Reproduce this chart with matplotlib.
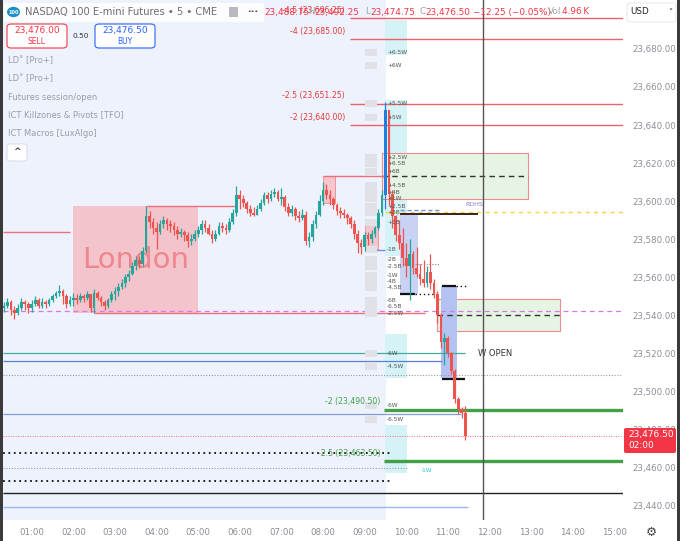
import numpy as np
import matplotlib
matplotlib.use('Agg')
import matplotlib.pyplot as plt
from matplotlib.patches import Rectangle, FancyBboxPatch, Circle

# ---- candles: 5 minute bars from 00:20 to 11:25 ----
bar_start = 20 / 60.0
bar_step = 5 / 60.0
first_open = 23544
closes = [
    23545, 23547, 23543, 23541, 23544, 23547, 23546, 23544,
    23546, 23548, 23545, 23547, 23546, 23548, 23550, 23552, 23553, 23550, 23546, 23548,
    23549, 23548, 23550, 23549, 23551, 23544, 23552, 23549, 23547, 23545, 23548, 23551,
    23553, 23555, 23557, 23560, 23562, 23566, 23569, 23567, 23574, 23592, 23589, 23586,
    23584, 23588, 23590, 23588, 23587, 23585, 23583, 23584, 23582, 23579, 23580, 23583,
    23585, 23588, 23586, 23583, 23580, 23583, 23587, 23586, 23585, 23589, 23594, 23603,
    23601, 23599, 23596, 23594, 23593, 23596, 23599, 23603, 23601, 23604, 23605, 23601,
    23602, 23597, 23594, 23596, 23592, 23591, 23593, 23579, 23581, 23588, 23593, 23600,
    23606, 23603, 23601, 23598, 23595, 23594, 23593, 23591, 23588, 23583, 23578, 23576,
    23582, 23580, 23583, 23586, 23594, 23603, 23648, 23604, 23592, 23582, 23578, 23570,
    23566, 23572, 23565, 23562, 23559, 23557, 23563, 23557, 23551, 23540, 23526, 23528,
    23520, 23511, 23496, 23491, 23488.75, 23476.5,
]
highs = [
    23547, 23549, 23548, 23545, 23546, 23549, 23548, 23547,
    23548, 23550, 23549, 23549, 23548, 23549, 23551, 23553, 23556, 23554, 23551, 23550,
    23552, 23551, 23552, 23551, 23553, 23551, 23554, 23553, 23550, 23548, 23549, 23553,
    23555, 23557, 23559, 23562, 23564, 23568, 23571, 23571, 23576, 23597.5, 23595, 23591,
    23589, 23590, 23592, 23591, 23590, 23589, 23587, 23586, 23585, 23584, 23583, 23585,
    23587, 23590, 23590, 23588, 23585, 23585, 23589, 23589, 23588, 23591, 23596, 23608,
    23606, 23603, 23600, 23598, 23597, 23598, 23601, 23605, 23605, 23606, 23607, 23606,
    23607, 23603, 23599, 23598, 23597, 23595, 23596, 23595, 23584, 23590, 23595, 23603,
    23610, 23609, 23606, 23602, 23599, 23597, 23596, 23594, 23592, 23590, 23585, 23580,
    23584, 23584, 23585, 23587, 23596, 23606, 23652, 23646, 23606, 23593, 23590, 23586,
    23578, 23580, 23574, 23576, 23567, 23569, 23566, 23572, 23559, 23553, 23541, 23531,
    23529, 23521, 23512, 23497, 23492, 23492.25,
]
lows = [
    23542, 23544, 23540, 23538, 23540, 23543, 23543, 23541,
    23542, 23545, 23544, 23544, 23544, 23545, 23547, 23549, 23550, 23546, 23544, 23545,
    23545, 23546, 23547, 23547, 23548, 23542, 23541, 23548, 23545, 23543, 23544, 23547,
    23548, 23550, 23554, 23555, 23558, 23561, 23564, 23565, 23566, 23573, 23586, 23583,
    23575, 23583, 23586, 23585, 23584, 23582, 23580, 23581, 23579, 23576, 23577, 23579,
    23581, 23583, 23584, 23582, 23578, 23579, 23582, 23584, 23583, 23584, 23588, 23592,
    23596, 23597, 23594, 23592, 23592, 23593, 23595, 23598, 23599, 23600, 23602, 23600,
    23598, 23595, 23592, 23592, 23590, 23589, 23590, 23577, 23576, 23579, 23586, 23592,
    23598, 23601, 23598, 23596, 23593, 23591, 23591, 23588, 23586, 23580, 23573, 23572,
    23574, 23577, 23578, 23581, 23585, 23592, 23596, 23598, 23586, 23579, 23575, 23566,
    23560, 23548, 23562, 23560, 23556, 23555, 23555, 23554, 23549, 23536, 23523, 23514,
    23518, 23509, 23494, 23488, 23486, 23474.75,
]
macro_bar_time = 9.5  # highlighted blue candle

# ---- levels ----
fib_red = [('-4.5', 23696.25), ('-4', 23685.00), ('-2.5', 23651.25), ('-2', 23640.00)]
fib_green = [('-2', 23490.50), ('-2.5', 23463.50)]
london_start, london_end = 2.0, 5.0
session_open = 9.5
cursor_time = 11.85
last_price = 23476.50
ohlc_text = ['23,488.75', '23,492.25', '23,474.75', '23,476.50', '\u221212.25 (\u22120.05%)', '4.96\u2009K']

fvg_boxes = [(9.42, 12.93, 23601.0, 23625.5, 23613.0), (10.75, 13.70, 23532.0, 23548.8, 23540.4)]
macro_boxes = [(9.86, 10.29, 23551.4, 23593.5, '#c9d2f4'), (10.84, 11.22, 23507.0, 23555.5, '#b4c2f1')]
cyan_cols = [(23677.0, 23695.0), (23571.0, 23653.0), (23507.0, 23530.0), (23457.3, 23482.6)]

tag_names = ['+6.5W', '+6W', '+5.5W', '+5W', '+2.5W', '+6.5B', '+6B', '+4.5B', '+4B', '+1W',
             '+2.5B', '+2B', '+1B', '-1B', '-2B', '-2.5B', '-1W', '-4B', '-4.5B', '-6B',
             '-6.5B', '-2.5W', '-6W', '-4.5W', '-6W', '-6.5W']
tag_prices = [23678, 23671.3, 23651.3, 23644, 23623, 23620, 23615.6, 23608.3, 23604.6, 23601.4,
              23597.2, 23594, 23588.8, 23574.6, 23569.3, 23565.6, 23561, 23557.8, 23554.6, 23547.8,
              23544.6, 23541, 23520, 23513.1, 23492.6, 23485.3]

price_ticks = list(range(23440, 23681, 20))
hour_ticks = list(range(1, 16))

W, H = 680, 541
UP, DOWN = '#26a69a', '#ef5350'
RED = '#f23645'


def fx(px):
    return px / W


def fy(py):
    return 1 - py / H


fig = plt.figure(figsize=(W / 100, H / 100), dpi=100)
fig.patch.set_facecolor('white')
ax = fig.add_axes([3 / W, 21 / H, 620 / W, 520 / H])
ax.set_facecolor('white')
xmin, xmax = 0.31, 15.21
ax.set_xlim(xmin, xmax)
ax.set_ylim(23432.5, 23705.7)
for s in ax.spines.values():
    s.set_visible(False)

ax.axvspan(xmin, session_open, color='#eef2fc', zorder=0)

times = bar_start + bar_step * np.arange(len(closes))
closes = np.array(closes, dtype=float)
opens = np.concatenate([[first_open], closes[:-1]])
highs = np.maximum(np.array(highs, dtype=float), np.maximum(opens, closes))
lows = np.minimum(np.array(lows, dtype=float), np.minimum(opens, closes))

# london killzone box from session high/low
in_ldn = (times >= london_start) & (times < london_end)
ldn_hi = highs[in_ldn].max()
ldn_lo = lows[in_ldn].min()
t_hi = times[in_ldn][np.argmax(highs[in_ldn])]
t_lo = times[in_ldn][np.argmin(lows[in_ldn])]
ax.add_patch(Rectangle((london_start, ldn_lo), london_end - london_start, ldn_hi - ldn_lo,
                       facecolor='#f5bcc3', edgecolor='none', alpha=0.85, zorder=1))
ax.text((london_start + london_end) / 2, (ldn_hi + ldn_lo) / 2, 'London', color='#f0868d',
        fontsize=21, ha='center', va='center', zorder=2)
ax.hlines(ldn_hi, t_hi, 5.89, color='#ef6f78', lw=1, zorder=2)
ax.hlines(ldn_lo, t_lo, 10.45, color='#ef6f78', lw=1, zorder=2)
ax.hlines(23584, xmin, 1.92, color='#ef6f78', lw=1, zorder=2)

# cyan columns after the open
for lo, hi in cyan_cols:
    ax.add_patch(Rectangle((session_open, lo), 0.53, hi - lo, facecolor='#d5f3f7', edgecolor='none', zorder=1))

# fvg boxes
for t0, t1, lo, hi, mid in fvg_boxes:
    ax.add_patch(Rectangle((t0, lo), t1 - t0, hi - lo, facecolor='#e6f4e4', edgecolor='#f08a90', lw=0.8, zorder=1))
    ax.hlines(mid, t0, t1, color='#333333', lw=1, linestyles=(0, (4, 3)), zorder=2)

for t0, t1, lo, hi, c in macro_boxes:
    ax.add_patch(Rectangle((t0, lo), t1 - t0, hi - lo, facecolor=c, edgecolor='none', zorder=1))

# small boxes before the open
ax.add_patch(Rectangle((8.0, 23599), 0.3, 14, facecolor='#f6c6cc', edgecolor='#f08a90', lw=0.6, zorder=1))
ax.hlines(23613, 8.0, 9.49, color='#ef6f78', lw=1, zorder=2)
ax.add_patch(Rectangle((9.0, 23575), 0.33, 13.5, facecolor='#f2c4cb', edgecolor='#f08a90', lw=0.6, zorder=1))
ax.hlines(23574.6, 9.0, 9.5, color='#6f8fdc', lw=1, zorder=2)

# horizontal levels
ax.hlines(23542.5, xmin, xmax, color='#d977e8', lw=0.9, linestyles=(0, (4, 3)), zorder=2)
ax.hlines(23520, xmin, 11.41, color='#3fae9e', lw=0.9, zorder=2)
ax.hlines(23515.8, xmin, 10.86, color='#5b7fd6', lw=0.9, zorder=2)
ax.hlines(23508.5, xmin, xmax, color='#9a9a9a', lw=0.8, linestyles=(0, (1, 1.5)), zorder=2)
ax.hlines(23488, xmin, 11.31, color='#7f9bd0', lw=0.9, zorder=2)
ax.hlines(last_price, xmin, xmax, color='#f06b75', lw=0.7, linestyles=(0, (1, 1.5)), zorder=2)
ax.hlines(23467.8, xmin, 9.66, color='#111111', lw=1.3, linestyles=(0, (1, 2)), zorder=2)
ax.hlines(23460, xmin, 10.02, color='#9a9a9a', lw=0.8, linestyles=(0, (1, 1.5)), zorder=2)
ax.hlines(23453, xmin, 9.69, color='#111111', lw=1.3, linestyles=(0, (1, 2)), zorder=2)
ax.hlines(23446.8, xmin, xmax, color='#222222', lw=1, zorder=2)
ax.hlines(23439.5, xmin, 11.48, color='#9bb8ee', lw=1, zorder=2)
ax.hlines(23594.5, session_open, xmax, color='#f4d44c', lw=1, linestyles=(0, (3, 3)), zorder=2)
ax.hlines(23593.5, 9.85, 11.73, color='#3a2020', lw=1.4, zorder=3)
ax.hlines(23595.2, 9.85, 10.8, color='#6f8fdc', lw=1, linestyles=(0, (3, 2)), zorder=3)
ax.text(11.42, 23597, 'RDHS', color='#9575cd', fontsize=4.5, va='bottom', zorder=4)
ax.hlines(23551.4, 9.85, 10.2, color='#111111', lw=1.6, zorder=3)
ax.hlines(23551.4, 10.2, 10.8, color='#111111', lw=1, linestyles=(0, (1, 2)), zorder=3)
ax.hlines(23555.5, 10.86, 11.2, color='#111111', lw=1.6, zorder=3)
ax.hlines(23555.5, 11.2, 11.45, color='#111111', lw=1, linestyles=(0, (1, 2)), zorder=3)
ax.hlines(23506.8, 10.86, 11.41, color='#111111', lw=1.6, zorder=3)
ax.hlines(23567, 9.95, 10.8, color='#888888', lw=0.8, linestyles=(0, (1, 1.5)), zorder=3)

for name, p in fib_red:
    ax.hlines(p, 8.65, xmax, color='#e8626c', lw=1, zorder=2)
    ax.annotate(f'{name} ({p:,.2f})', (8.53, p), xytext=(0, 2.5), textcoords='offset points',
                ha='right', va='bottom', color='#e53935', fontsize=5.6, zorder=4)
for name, p in fib_green:
    ax.hlines(p, 9.47, xmax, color='#43a047', lw=2.4, zorder=2)
    ax.annotate(f'{name} ({p:,.2f})', (9.38, p), xytext=(0, 2.5), textcoords='offset points',
                ha='right', va='bottom', color='#43a047', fontsize=5.6, zorder=4)

# placeholder boxes and level tags
for name, p in zip(tag_names, tag_prices):
    ax.add_patch(Rectangle((9.02, p - 1.8), 0.28, 3.6, facecolor='#e0e1e6', edgecolor='none', zorder=2))
    ax.text(9.54, p, name, color='#555555', fontsize=4.2, va='center', zorder=4)
ax.text(10.34, 23458.4, '-1W', color='#26c6da', fontsize=4.2, va='center', zorder=4)
ax.text(11.73, 23520, 'W OPEN', color='#333333', fontsize=6, va='center', zorder=4)

# candles
colors = np.where(closes >= opens, UP, DOWN).astype(object)
widths = np.full(len(closes), 0.065)
blue = np.isclose(times, macro_bar_time)
colors[blue] = '#1f7fe0'
widths[blue] = 0.09
ax.vlines(times, lows, highs, colors=list(colors), lw=0.9, zorder=3)
body = np.abs(closes - opens)
body = np.where(body < 0.4, 0.4, body)
ax.bar(times, body, bottom=np.minimum(opens, closes), width=widths, color=list(colors), zorder=3)

ax.axvline(cursor_time, color='#555555', lw=1, zorder=5)

# axes ticks
ax.yaxis.tick_right()
ax.set_yticks(price_ticks)
ax.set_yticklabels([f'{p:,.2f}' for p in price_ticks])
ax.set_xticks(hour_ticks)
ax.set_xticklabels([f'{h:02d}:00' for h in hour_ticks])
ax.tick_params(axis='y', length=0, pad=7, labelsize=6.2, labelcolor='#8a8d96')
ax.tick_params(axis='x', length=0, pad=6, labelsize=6.2, labelcolor='#8a8d96')

# ---- overlays in pixel space ----
fig.add_artist(Rectangle((0, 0), fx(3), 1, transform=fig.transFigure, facecolor='#3a3a3a', edgecolor='none'))
fig.add_artist(Rectangle((fx(677), 0), fx(3), 1, transform=fig.transFigure, facecolor='#3a3a3a', edgecolor='none'))

fig.add_artist(FancyBboxPatch((fx(4), fy(22)), fx(260), 19 / H, boxstyle='round,pad=0,rounding_size=0.005',
                              transform=fig.transFigure, facecolor='white', edgecolor='none', alpha=0.92))
fig.add_artist(Circle((fx(13.5), fy(12)), 6.5 / W, transform=fig.transFigure, facecolor='#1c8fc4', edgecolor='none'))
fig.text(fx(13.5), fy(12), '100', color='white', fontsize=3.6, ha='center', va='center', weight='bold')
fig.text(fx(25), fy(12), 'NASDAQ 100 E-mini Futures \u2022 5 \u2022 CME', color='#6a6d78', fontsize=7.2, va='center')
fig.add_artist(Rectangle((fx(229), fy(17)), fx(9), 10 / H, transform=fig.transFigure, facecolor='#b8bac0', edgecolor='none'))
fig.text(fx(247), fy(12), '\u2022\u2022\u2022', color='#333333', fontsize=4.5, va='center')

ohlc_x = [264, 314, 370, 425, 473, 562]
lab_x = [308, 365, 419, 548]
lab_t = ['H', 'L', 'C', 'Vol']
for x, t in zip(ohlc_x, ohlc_text):
    fig.text(fx(x), fy(12), t, color=RED, fontsize=6.4, va='center')
for x, t in zip(lab_x, lab_t):
    fig.text(fx(x), fy(12), t, color='#a0a3ab', fontsize=6.4, va='center')

fig.add_artist(FancyBboxPatch((fx(7), fy(48)), fx(60), 24 / H, boxstyle='round,pad=0,rounding_size=0.006',
                              transform=fig.transFigure, facecolor='white', edgecolor=RED, lw=0.8))
fig.text(fx(37), fy(31), '23,476.00', color=RED, fontsize=6.5, ha='center', va='center')
fig.text(fx(37), fy(42), 'SELL', color=RED, fontsize=5.5, ha='center', va='center')
fig.text(fx(81), fy(36), '0.50', color='#333333', fontsize=5.3, ha='center', va='center')
fig.add_artist(FancyBboxPatch((fx(95), fy(48)), fx(60), 24 / H, boxstyle='round,pad=0,rounding_size=0.006',
                              transform=fig.transFigure, facecolor='white', edgecolor='#2962ff', lw=0.8))
fig.text(fx(125), fy(31), '23,476.50', color='#2962ff', fontsize=6.5, ha='center', va='center')
fig.text(fx(125), fy(42), 'BUY', color='#2962ff', fontsize=5.5, ha='center', va='center')

indicators = ['LD\u02da [Pro+]', 'LD\u02da [Pro+]', 'Futures session/open', 'ICT Killzones & Pivots [TFO]', 'ICT Macros [LuxAlgo]']
for i, name in enumerate(indicators):
    fig.text(fx(8), fy(61 + 18 * i), name, color='#9a9da6', fontsize=6, va='center')
fig.add_artist(FancyBboxPatch((fx(7), fy(161)), fx(20), 17 / H, boxstyle='round,pad=0,rounding_size=0.004',
                              transform=fig.transFigure, facecolor='white', edgecolor='#d8dae0', lw=0.7))
fig.text(fx(17), fy(151), '^', color='#333333', fontsize=6.5, ha='center', va='center', weight='bold')

fig.add_artist(FancyBboxPatch((fx(627), fy(22)), fx(49), 19 / H, boxstyle='round,pad=0,rounding_size=0.004',
                              transform=fig.transFigure, facecolor='white', edgecolor='#e6e7eb', lw=0.7))
fig.text(fx(630), fy(12), 'USD', color='#222222', fontsize=6.3, va='center')
fig.text(fx(668), fy(12), '\u02c5', color='#222222', fontsize=6, va='center')

fig.add_artist(FancyBboxPatch((fx(624), fy(453)), fx(52), 25 / H, boxstyle='round,pad=0,rounding_size=0.003',
                              transform=fig.transFigure, facecolor=RED, edgecolor='none'))
fig.text(fx(628), fy(435), f'{last_price:,.2f}', color='white', fontsize=6.5, va='center')
fig.text(fx(628), fy(446), '02:00', color='white', fontsize=6.5, va='center')
fig.text(fx(651), fy(532), '\u2699', color='#444444', fontsize=9, ha='center', va='center')

fig.savefig('out.png', dpi=100, facecolor='white')
